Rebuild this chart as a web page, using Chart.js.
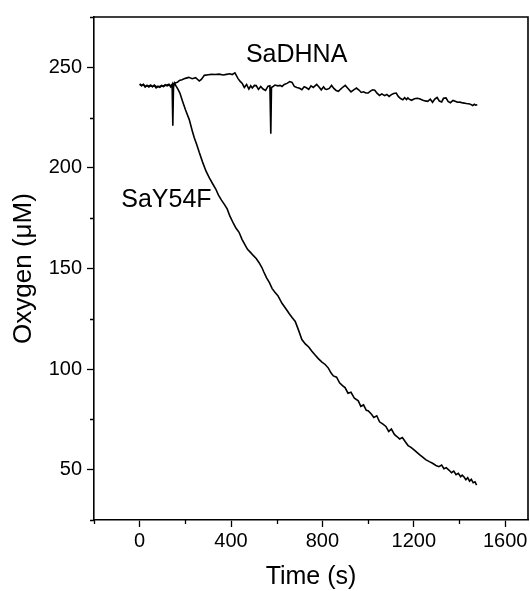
<!DOCTYPE html>
<html>
<head>
<meta charset="utf-8">
<title>Oxygen consumption</title>
<script src="https://cdn.jsdelivr.net/npm/chart.js@4.4.0/dist/chart.umd.min.js"></script>
<style>
html, body { margin: 0; padding: 0; background: #fff; }
#myChart { display: block; }
</style>
</head>
<body>
<canvas id="myChart" width="530" height="591"></canvas>
<script>
// time (s) and oxygen (uM)
var tDhna = [0,8,16,24,32,40,48,56,64,72,80,88,96,104,112,120,128,136,145,155,165,174,185,200,215,230,245,261,270,283,300,315,330,348,365,380,395,405,417,430,440,449,458,468,478,486,493,502,510,520,530,540,551,562,570,574,577,582,592,605,615,623,633,645,657,667,677,688,700,710,720,730,740,750,760,775,785,795,805,812,819,830,840,850,860,870,880,890,900,912,925,937,949,960,970,980,990,1000,1010,1020,1029,1040,1050,1060,1072,1082,1092,1102,1112,1123,1132,1142,1152,1160,1168,1174,1180,1190,1203,1215,1225,1240,1250,1261,1272,1282,1292,1302,1312,1322,1330,1341,1350,1360,1372,1384,1391,1402,1415,1430,1445,1458,1465,1471,1478];
var oDhna = [241.8,241.0,241.6,240.5,241.0,240.2,240.8,240.4,241.2,240.3,240.6,240.4,241.0,240.6,241.3,240.8,241.2,240.9,241.6,242.2,242.5,243.5,243.8,244.5,245.0,244.3,244.8,243.2,244.0,246.0,246.3,246.5,246.4,246.6,246.2,246.5,246.8,246.4,247.2,244.5,243.0,242.0,240.0,241.5,239.2,240.8,239.7,241.0,240.9,239.0,240.5,239.2,238.5,240.6,240.8,217.0,240.0,240.3,241.2,240.8,241.0,240.5,241.5,242.0,242.9,242.5,240.5,240.0,239.6,238.9,240.3,239.8,239.0,240.8,240.0,241.5,240.2,238.8,240.3,239.2,239.0,239.5,241.0,239.5,238.5,238.1,239.2,240.2,241.0,239.5,237.8,238.8,239.7,238.7,237.5,237.8,237.2,237.2,238.2,238.8,238.6,237.0,236.0,236.8,235.9,236.5,235.5,236.4,237.0,237.2,235.5,234.5,233.9,234.9,234.0,234.8,234.2,233.6,234.4,234.6,234.4,233.6,233.3,233.1,234.2,232.6,234.2,235.0,233.2,232.8,234.6,234.8,233.0,232.4,233.5,233.0,232.6,232.7,232.3,232.0,231.8,231.0,231.6,231.2,231.4];

var tY54f = [0,8,16,24,32,40,48,56,64,72,80,88,96,104,112,120,128,136,142,145,148,152,160,168,176,188,200,217,230,239,250,261,275,290,305,320,333,345,358,370,383,395,410,422,435,448,460,472,485,497,510,522,535,543,555,568,580,592,605,623,640,655,668,681,695,710,725,740,754,768,782,798,812,826,838,848,862,875,888,899,912,925,940,957,968,980,992,1000,1014,1025,1038,1050,1065,1078,1090,1102,1115,1126,1138,1150,1162,1175,1186,1196,1210,1225,1239,1252,1268,1282,1297,1310,1322,1332,1342,1355,1365,1375,1385,1395,1405,1412,1420,1428,1436,1444,1452,1460,1468,1475];
var oY54f = [241.5,240.8,241.4,240.2,241.0,240.6,241.2,240.3,240.9,239.8,240.4,240.0,240.8,240.4,241.0,241.2,241.6,240.2,241.5,221.0,240.0,242.2,240.5,239.0,237.2,233.0,229.0,224.0,218.5,215.0,211.5,207.6,203.0,198.5,195.0,192.0,189.5,186.5,184.0,182.0,179.6,176.0,172.5,170.0,168.0,164.5,162.0,159.5,158.0,156.5,155.0,153.0,150.5,148.4,145.5,143.0,140.0,138.2,136.5,132.7,130.0,127.5,125.5,123.7,119.5,114.7,112.5,111.0,108.9,107.0,105.2,103.5,102.3,100.5,98.0,96.6,96.0,93.2,91.8,90.8,88.0,88.5,85.5,84.2,81.5,82.2,79.5,79.3,77.7,76.0,76.8,73.8,72.7,71.5,69.0,70.2,67.5,66.5,65.3,66.0,64.0,62.0,61.2,60.4,59.0,57.5,56.2,55.0,54.0,53.2,52.1,51.5,52.3,50.5,51.0,49.7,48.5,49.3,47.5,48.2,46.5,47.3,46.4,45.0,46.0,44.3,45.2,43.5,44.0,42.3];

var xMajor = [0, 400, 800, 1200, 1600];
var xMinor = [-200, 200, 600, 1000, 1400];
var yMajor = [50, 100, 150, 200, 250];
var yMinor = [25, 75, 125, 175, 225, 275];

// curve labels: [text, time, oxygen]
var curveLabels = [['SaDHNA', 687, 256], ['SaY54F', 117, 184]];

var FONT = "'Liberation Sans', Arial, sans-serif";

function pts(t, o) {
	return t.map(function (v, i) { return { x: v, y: o[i] }; });
}

// box on top/right, minor ticks and curve labels
var extras = {
	id: 'extras',
	afterDraw: function (chart) {
		var ctx = chart.ctx, a = chart.chartArea;
		var xs = chart.scales.x, ys = chart.scales.y;
		ctx.save();
		ctx.strokeStyle = '#000';
		ctx.lineWidth = 1.6;
		ctx.beginPath();
		ctx.moveTo(a.left, a.top);
		ctx.lineTo(a.right, a.top);
		ctx.lineTo(a.right, a.bottom);
		ctx.stroke();

		ctx.lineWidth = 1.3;
		ctx.beginPath();
		xMinor.forEach(function (v) {
			var px = Math.round(xs.getPixelForValue(v)) + 0.5;
			ctx.moveTo(px, a.bottom);
			ctx.lineTo(px, a.bottom + 4);
		});
		yMinor.forEach(function (v) {
			var py = Math.round(ys.getPixelForValue(v)) + 0.5;
			ctx.moveTo(a.left, py);
			ctx.lineTo(a.left - 4, py);
		});
		ctx.stroke();

		ctx.fillStyle = '#000';
		ctx.font = '25px ' + FONT;
		ctx.textAlign = 'center';
		ctx.textBaseline = 'middle';
		curveLabels.forEach(function (l) {
			ctx.fillText(l[0], xs.getPixelForValue(l[1]), ys.getPixelForValue(l[2]));
		});
		ctx.restore();
	}
};

var ctx = document.getElementById('myChart').getContext('2d');
var config = {
	type: 'line',
	data: {
		datasets: [{
			label: 'SaDHNA',
			data: pts(tDhna, oDhna),
			borderColor: '#000',
			borderWidth: 1.6,
			pointRadius: 0,
			fill: false,
			tension: 0
		}, {
			label: 'SaY54F',
			data: pts(tY54f, oY54f),
			borderColor: '#000',
			borderWidth: 1.6,
			pointRadius: 0,
			fill: false,
			tension: 0
		}]
	},
	options: {
		responsive: false,
		animation: false,
		devicePixelRatio: 1,
		layout: { padding: { top: 14, right: 2, left: 0, bottom: 0 } },
		plugins: {
			legend: { display: false },
			tooltip: { enabled: false }
		},
		scales: {
			x: {
				type: 'linear',
				min: -200,
				max: 1700,
				afterBuildTicks: function (s) { s.ticks = xMajor.map(function (v) { return { value: v }; }); },
				afterFit: function (s) { s.height = 71; },
				border: { color: '#000', width: 1.6 },
				grid: { drawOnChartArea: false, tickLength: 7, tickColor: '#000', tickWidth: 1.3 },
				ticks: {
					autoSkip: false,
					maxRotation: 0,
					padding: 2,
					color: '#000',
					font: { family: FONT, size: 20 },
					callback: function (v) { return String(v); }
				},
				title: {
					display: true,
					text: 'Time (s)',
					color: '#000',
					font: { family: FONT, size: 25, lineHeight: 1 },
					padding: { top: 0, bottom: 1 }
				}
			},
			y: {
				type: 'linear',
				min: 25,
				max: 275,
				afterBuildTicks: function (s) { s.ticks = yMajor.map(function (v) { return { value: v }; }); },
				afterFit: function (s) { s.width = 94; },
				border: { color: '#000', width: 1.6 },
				grid: { drawOnChartArea: false, tickLength: 7, tickColor: '#000', tickWidth: 1.3 },
				ticks: {
					autoSkip: false,
					padding: 5,
					color: '#000',
					font: { family: FONT, size: 20 },
					callback: function (v) { return String(v); }
				},
				title: {
					display: true,
					text: 'Oxygen (\u03BCM)',
					color: '#000',
					font: { family: FONT, size: 26, lineHeight: 1 },
					padding: { top: 11, bottom: 0 }
				}
			}
		}
	},
	plugins: [extras]
};

var myChart = new Chart(ctx, config);
</script>
</body>
</html>
